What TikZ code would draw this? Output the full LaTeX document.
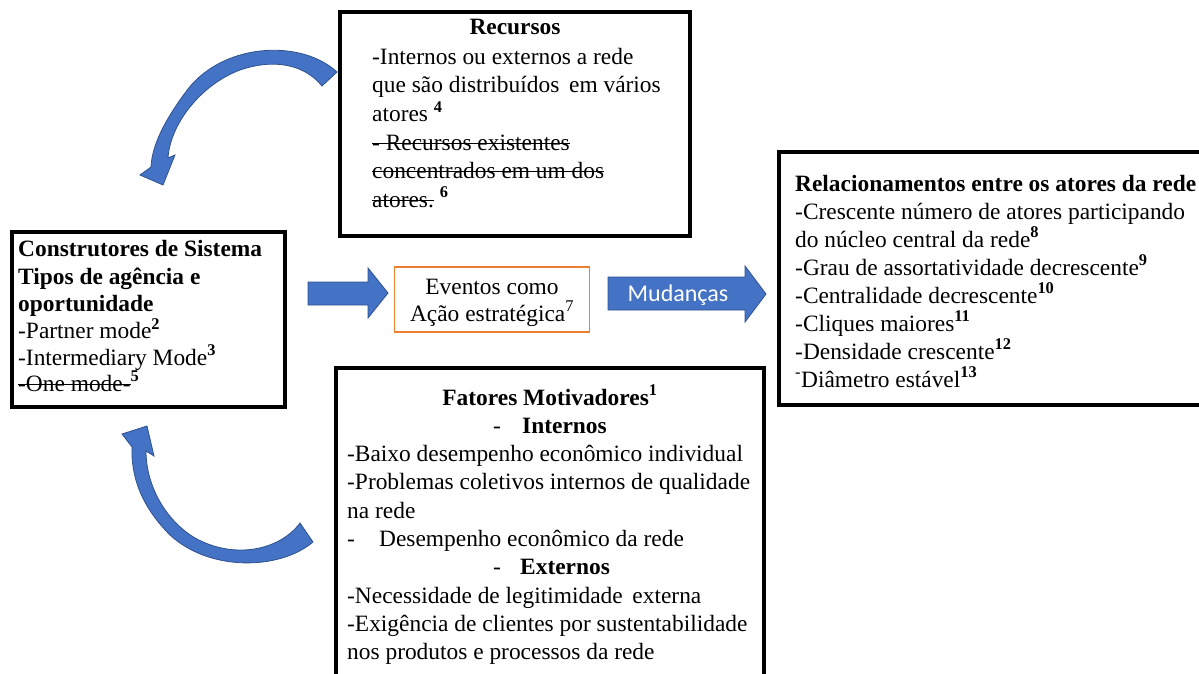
\documentclass[tikz,border=0pt]{standalone}
\usepackage{fontspec}
\setmainfont{Liberation Serif}
\newfontfamily\calfont{Carlito}
\newsavebox\strkbox
\newcommand\mystrike[1]{\sbox\strkbox{#1}\rlap{\rule[0.24em]{\wd\strkbox}{1.4pt}}\usebox\strkbox}
\definecolor{arrowblue}{HTML}{4472C4}
\definecolor{arrowedge}{HTML}{2F528F}
\definecolor{evorange}{HTML}{ED7D31}
\newcommand\fs{\rmfamily\fontsize{23.4}{28}\selectfont}
\tikzset{
  box/.style={draw=black, line width=4pt, inner sep=0, outer sep=0, anchor=north west},
  evbox/.style={draw=evorange, line width=1.2pt, inner sep=0, outer sep=0, anchor=north west},
  ln/.style={anchor=base west, inner sep=0, font=\fs},
  lc/.style={anchor=base, inner sep=0, font=\fs},
  barrow/.style={fill=arrowblue, draw=arrowedge, line width=0.8pt, line join=miter},
}
\begin{document}
\begin{tikzpicture}[x=1pt,y=-1pt]
\useasboundingbox (0,0) rectangle (1199,674);
\begin{scope}
\clip (0,0) rectangle (1199,674);
% boxes
\node[box, minimum width=350pt, minimum height=223.5pt] (rec) at (340,12.5) {};
\node[box, minimum width=273pt, minimum height=175pt] (cons) at (12,232) {};
\node[box, minimum width=440pt, minimum height=252.5pt] (rel) at (778.5,152) {};
\node[box, minimum width=428.5pt, minimum height=330pt] (fat) at (335.5,367.5) {};
\node[evbox, minimum width=195pt, minimum height=65pt] (ev) at (394.5,267) {};

% Recursos
\node[lc, font=\fs\bfseries] (r0) at (515,35) {Recursos};
\node[ln] (r1) at (372,65) {-Internos ou externos a rede};
\node[ln] (r2) at (372,93) {que são distribuídos\, em vários};
\node[ln] (r3) at (372,122) {atores \textsuperscript{\textbf{4}}};
\node[ln] (r4) at (372,150) {\mystrike{- Recursos existentes}};
\node[ln] (r5) at (372,178) {\mystrike{concentrados em um dos}};
\node[ln] (r6) at (372,207) {\mystrike{atores.} \textsuperscript{\textbf{6}}};

% Construtores
\node[ln] (c1) at (18,256) {\textbf{Construtores de Sistema}};
\node[ln] (c2) at (18,284) {\textbf{Tipos de agência e}};
\node[ln] (c3) at (18,311) {\textbf{oportunidade}};
\node[ln] (c4) at (18,338.5) {-Partner mode\textsuperscript{\textbf{2}}};
\node[ln] (c5) at (18,365) {-Intermediary Mode\textsuperscript{\textbf{3}}};
\node[ln] (c6) at (18,391) {\mystrike{-One mode-}\textsuperscript{\textbf{5}}};

% Eventos
\node[lc] (e1) at (492,294) {Eventos como};
\node[lc] (e2) at (492,321) {Ação estratégica\textsuperscript{7}};

% Relacionamentos
\node[ln] (l0) at (795,191) {\textbf{Relacionamentos entre os atores da rede}};
\node[ln] (l1) at (795,219) {-Crescente número de atores participando};
\node[ln] (l2) at (795,247) {do núcleo central da rede\textsuperscript{\textbf{8}}};
\node[ln] (l3) at (795,275) {-Grau de assortatividade decrescente\textsuperscript{\textbf{9}}};
\node[ln] (l4) at (795,303) {-Centralidade decrescente\textsuperscript{\textbf{10}}};
\node[ln] (l5) at (795,331) {-Cliques maiores\textsuperscript{\textbf{11}}};
\node[ln] (l6) at (795,359) {-Densidade crescente\textsuperscript{\textbf{12}}};
\node[ln] (l7) at (795,387) {\textsuperscript{-}Diâmetro estável\textsuperscript{\textbf{13}}};

% Fatores
\node[lc] (f0) at (550,405) {\textbf{Fatores Motivadores}\textsuperscript{\textbf{1}}};
\node[ln] (f1) at (493,433) {\makebox[29pt][l]{-}\textbf{Internos}};
\node[ln] (f2) at (347,461) {-Baixo desempenho econômico individual};
\node[ln] (f3) at (347,489.5) {-Problemas coletivos internos de qualidade};
\node[ln] (f4) at (347,518) {na rede};
\node[ln] (f5) at (347,546) {\makebox[32pt][l]{-}Desempenho econômico da rede};
\node[ln] (f6) at (493,574) {\makebox[27pt][l]{-}\textbf{Externos}};
\node[ln] (f7) at (347,603) {-Necessidade de legitimidade\, externa};
\node[ln] (f8) at (347,631) {-Exigência de clientes por sustentabilidade};
\node[ln] (f9) at (347,659.5) {nos produtos e processos da rede};

% block arrows
\draw[barrow] (308,282) -- (368,282) -- (368,268) -- (388,293) -- (368,318) -- (368,305) -- (308,305) -- cycle;
\draw[barrow] (608,277) -- (745,277) -- (745,266) -- (766,294) -- (745,322) -- (745,310) -- (608,310) -- cycle;
\node[anchor=base, inner sep=0, text=white, font=\calfont\fontsize{24}{28}\selectfont] (mud) at (678,301) {Mudanças};

% curved arrow top (from Recursos down to Construtores)
\draw[barrow] (337,72) .. controls (300,38) and (220,43) .. (185,93)
  .. controls (165,120) and (152,145) .. (151,167)
  -- (140,175) -- (163,185) -- (175,155) -- (168,158)
  .. controls (170,125) and (200,85) .. (240,70)
  .. controls (275,58) and (305,65) .. (322,86) -- cycle;

% curved arrow bottom (from Fatores up to Construtores)
\draw[barrow] (313,542) .. controls (280,570) and (210,572) .. (170,535)
  .. controls (140,505) and (131,475) .. (132,447)
  -- (122,434) -- (147,426) -- (154,456) -- (146,451)
  .. controls (146,485) and (165,520) .. (195,538)
  .. controls (235,560) and (280,550) .. (300,523) -- cycle;
\end{scope}
\end{tikzpicture}
\end{document}
